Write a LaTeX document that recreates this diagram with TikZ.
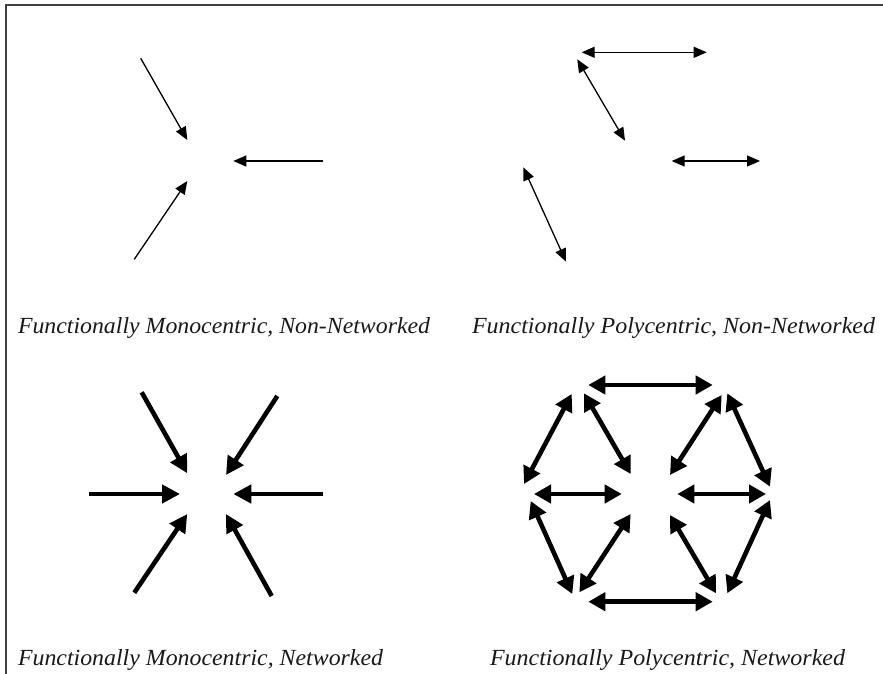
\documentclass[tikz,border=0pt]{standalone}
\usepackage{fontspec}
\setmainfont{Liberation Serif}
\usetikzlibrary{arrows.meta}

\tikzset{
  frameline/.style={draw=black!75, line width=1.5pt},
  thinarrow/.style={draw=black, line width=1.3pt, -{Triangle[length=13pt,width=11pt]}},
  thinboth/.style={draw=black, line width=1.3pt, {Triangle[length=13pt,width=11pt]}-{Triangle[length=13pt,width=11pt]}},
  thickarrow/.style={draw=black, line width=4.6pt, -{Triangle[length=18pt,width=18pt]}},
  thickboth/.style={draw=black, line width=4.6pt, {Triangle[length=17pt,width=18pt]}-{Triangle[length=17pt,width=18pt]}},
  caption/.style={anchor=base west, inner sep=0pt, outer sep=0pt, text=black!90}
}

\begin{document}
\begin{tikzpicture}[x=1pt, y=-1pt]
\useasboundingbox (0,0) rectangle (883,674);

% frame (top and left edges)
\coordinate (fbl) at (6,674);
\coordinate (ftl) at (6,5);
\coordinate (ftr) at (883,5);
\draw[frameline] (fbl) -- (ftl) -- (ftr);

% --- functionally monocentric, non-networked ---
\coordinate (a1s) at (140.7,58.3);  \coordinate (a1e) at (187.3,140);
\coordinate (a2s) at (134.3,259.3); \coordinate (a2e) at (187.3,181);
\coordinate (a3s) at (323.3,161);   \coordinate (a3e) at (233.3,161);
\draw[thinarrow] (a1s) -- (a1e);
\draw[thinarrow] (a2s) -- (a2e);
\draw[thinarrow] (a3s) -- (a3e);

% --- functionally polycentric, non-networked ---
\coordinate (b1s) at (581.7,52.3);  \coordinate (b1e) at (706.7,52.3);
\coordinate (b2s) at (577.3,59.3);  \coordinate (b2e) at (625,140.7);
\coordinate (b3s) at (671.7,161);   \coordinate (b3e) at (760,161);
\coordinate (b4s) at (523.3,167.3); \coordinate (b4e) at (566,261.7);
\draw[thinboth] (b1s) -- (b1e);
\draw[thinboth] (b2s) -- (b2e);
\draw[thinboth] (b3s) -- (b3e);
\draw[thinboth] (b4s) -- (b4e);

% --- functionally monocentric, networked ---
\coordinate (c1s) at (141.7,392.3); \coordinate (c1e) at (187.3,473.3);
\coordinate (c2s) at (277.3,396);   \coordinate (c2e) at (226,475);
\coordinate (c3s) at (89.3,494);    \coordinate (c3e) at (180,494);
\coordinate (c4s) at (323.3,494);   \coordinate (c4e) at (233.3,494);
\coordinate (c5s) at (134.3,592.7); \coordinate (c5e) at (187.3,514);
\coordinate (c6s) at (271.7,596);   \coordinate (c6e) at (226,514);
\foreach \k in {1,...,6} \draw[thickarrow] (c\k s) -- (c\k e);

% --- functionally polycentric, networked ---
\coordinate (d1s) at (588.3,385);   \coordinate (d1e) at (712.7,385);
\coordinate (d2s) at (588.3,601.7); \coordinate (d2e) at (712.7,601.7);
\coordinate (d3s) at (571.7,394);   \coordinate (d3e) at (524,484);
\coordinate (d4s) at (584,393.3);   \coordinate (d4e) at (630.7,474);
\coordinate (d5s) at (721.7,395);   \coordinate (d5e) at (670,475);
\coordinate (d6s) at (727.3,393.3); \coordinate (d6e) at (770,486.7);
\coordinate (d7s) at (534,494);     \coordinate (d7e) at (621.7,494);
\coordinate (d8s) at (677.3,494);   \coordinate (d8e) at (766,494);
\coordinate (d9s) at (530.7,501);   \coordinate (d9e) at (572.3,594);
\coordinate (d10s) at (630.7,514);  \coordinate (d10e) at (579.3,592.3);
\coordinate (d11s) at (670,515);    \coordinate (d11e) at (716,593.3);
\coordinate (d12s) at (770,500);    \coordinate (d12e) at (727.3,593.3);
\foreach \k in {1,...,12} \draw[thickboth] (d\k s) -- (d\k e);

% --- captions ---
\node[caption] (capA) at (18,333.3)  {\resizebox{412pt}{16pt}{\itshape Functionally Monocentric, Non-Networked}};
\node[caption] (capB) at (472,333.3) {\resizebox{403pt}{16pt}{\itshape Functionally Polycentric, Non-Networked}};
\node[caption] (capC) at (18,665)    {\resizebox{365pt}{16pt}{\itshape Functionally Monocentric, Networked}};
\node[caption] (capD) at (490,665)   {\resizebox{355pt}{16pt}{\itshape Functionally Polycentric, Networked}};
\end{tikzpicture}
\end{document}
